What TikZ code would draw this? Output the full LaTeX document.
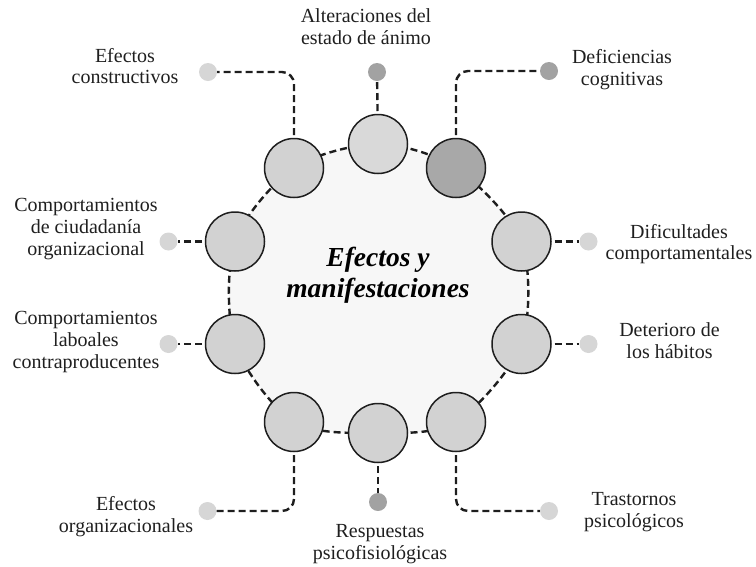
\documentclass[tikz,border=0pt]{standalone}
\usepackage{fontspec}
\setmainfont{Liberation Serif}
\usepackage{tikz}

\definecolor{ringfill}{HTML}{F7F7F7}
\definecolor{ballfill}{HTML}{D2D2D2}
\definecolor{balldark}{HTML}{A8A8A8}
\definecolor{dotlight}{HTML}{D6D6D6}
\definecolor{dotdark}{HTML}{A2A2A2}
\definecolor{inkline}{HTML}{1E1E1E}

\tikzset{
  ball/.style={circle,draw=inkline,line width=1.5pt,fill=ballfill,minimum size=59pt,inner sep=0pt},
  tip/.style={circle,fill=dotlight,minimum size=18pt,inner sep=0pt},
  darktip/.style={tip,fill=dotdark},
  conn/.style={draw=inkline,line width=2.4pt,dash pattern=on 7pt off 4pt,rounded corners=12pt},
  lbl/.style={align=center,inner sep=0pt,font=\fontsize{20}{21.8}\selectfont,text=black!88}
}

\begin{document}
\begin{tikzpicture}[x=1pt,y=-1pt]
	\useasboundingbox (0,0) rectangle (756,566);
	\draw[conn,fill=ringfill,rounded corners=0pt] plot[smooth cycle] coordinates {(294,168) (378,144) (456,168) (521.5,241.5) (521.5,344) (456,422) (378.5,433) (294,422) (235,344) (235,241.5)};
	\node (mid) at (378,276) {\fontsize{27.5}{31}\selectfont\bfseries\itshape\begin{tabular}{c}Efectos y\\manifestaciones\end{tabular}};
	\node[tip] (d1) at (208,72) {};
	\node[darktip] (d2) at (377,72) {};
	\node[darktip] (d3) at (549,71) {};
	\node[tip] (d4) at (588.5,241.5) {};
	\node[tip] (d5) at (588.5,344) {};
	\node[tip] (d6) at (549,511) {};
	\node[darktip] (d7) at (378,502) {};
	\node[tip] (d8) at (207.5,511) {};
	\node[tip] (d9) at (168.5,344) {};
	\node[tip] (d10) at (168.5,241.5) {};
	\coordinate (c1) at (294,168);
	\coordinate (c2) at (378,144);
	\coordinate (c3) at (456,168);
	\coordinate (c4) at (521.5,241.5);
	\coordinate (c5) at (521.5,344);
	\coordinate (c6) at (456,422);
	\coordinate (c7) at (378,433);
	\coordinate (c8) at (294,422);
	\coordinate (c9) at (235,344);
	\coordinate (c10) at (235,241.5);
	\draw[conn] (c1) |- (d1);
	\draw[conn] (c2) -- (d2);
	\draw[conn] (c3) |- (d3);
	\draw[conn] (c4) -- (d4);
	\draw[conn] (c5) -- (d5);
	\draw[conn] (c6) |- (d6);
	\draw[conn] (c7) -- (d7);
	\draw[conn] (c8) |- (d8);
	\draw[conn] (c9) -- (d9);
	\draw[conn] (c10) -- (d10);
	\node[ball] (b1) at (c1) {};
	\node[ball,fill=ballfill!85!white] (b2) at (c2) {};
	\node[ball,fill=balldark] (b3) at (c3) {};
	\node[ball] (b4) at (c4) {};
	\node[ball] (b5) at (c5) {};
	\node[ball] (b6) at (c6) {};
	\node[ball] (b7) at (c7) {};
	\node[ball] (b8) at (c8) {};
	\node[ball] (b9) at (c9) {};
	\node[ball] (b10) at (c10) {};
	\node[lbl] (l1) at (125,66) {Efectos\\constructivos};
	\node[lbl] (l2) at (366,27) {Alteraciones del\\estado de ánimo};
	\node[lbl] (l3) at (622,70) {Deficiencias\\cognitivas};
	\node[lbl] (l4) at (679,244) {Dificultades\\comportamentales};
	\node[lbl] (l5) at (669.5,341) {Deterioro de\\los hábitos};
	\node[lbl] (l6) at (634,512) {Trastornos\\psicológicos};
	\node[lbl] (l7) at (380,544) {Respuestas\\psicofisiológicas};
	\node[lbl] (l8) at (126,517) {Efectos\\organizacionales};
	\node[lbl] (l9) at (86,342) {Comportamientos\\laboales\\contraproducentes};
	\node[lbl] (l10) at (86,229) {Comportamientos\\de ciudadanía\\organizacional};
\end{tikzpicture}
\end{document}
